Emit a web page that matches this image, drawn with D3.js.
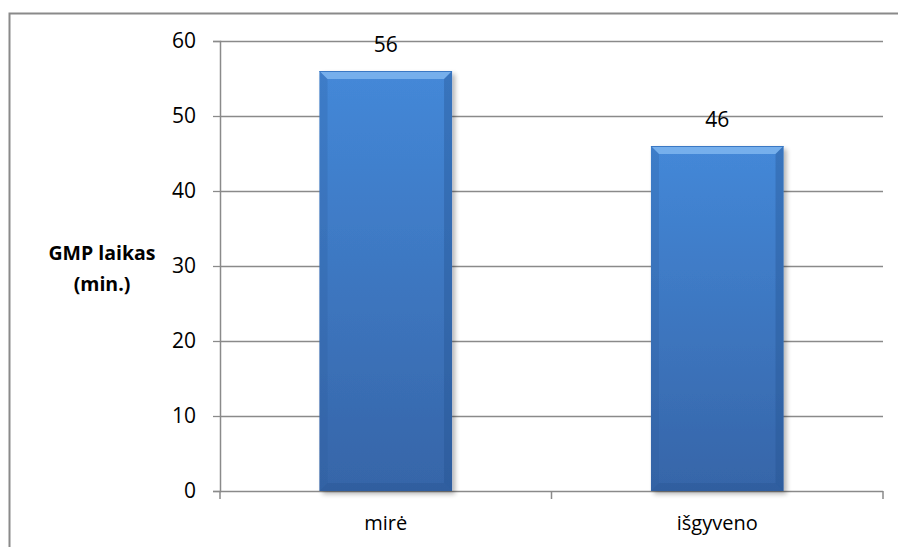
<!DOCTYPE html>
<html>
<head>
<meta charset="utf-8">
<script src="https://cdn.jsdelivr.net/npm/d3@7"></script>
<style>
  html, body { margin: 0; padding: 0; background: #fff; }
  svg { display: block; }
  text { font-family: "Open Sans", "Liberation Sans", sans-serif; fill: #000; }
</style>
</head>
<body>
<svg id="chart" width="898" height="547"></svg>
<script>
// Chart data
const categories = ["mirė", "išgyveno"];
const values = [56, 46];
const yTicks = [0, 10, 20, 30, 40, 50, 60];
const yTitleLines = ["GMP laikas", "(min.)"];

const W = 898, H = 547;
const plot = { left: 220, right: 883, top: 41, bottom: 491 };

const svg = d3.select("#chart");

// Outer chart frame (runs past the right and bottom edges)
svg.append("rect")
  .attr("x", 9.5).attr("y", 13.5)
  .attr("width", 1000).attr("height", 1000)
  .attr("fill", "none")
  .attr("stroke", "#8a8a8a")
  .attr("stroke-width", 2);

const x = d3.scaleBand()
  .domain(categories)
  .range([plot.left, plot.right])
  .paddingInner(0.6)
  .paddingOuter(0.3);

const y = d3.scaleLinear()
  .domain([0, 60])
  .range([plot.bottom, plot.top]);

const defs = svg.append("defs");

// Bar body gradient
const g = defs.append("linearGradient").attr("id", "barFill")
  .attr("x1", 0).attr("y1", 0).attr("x2", 0).attr("y2", 1);
g.append("stop").attr("offset", "0%").attr("stop-color", "#4488d8");
g.append("stop").attr("offset", "100%").attr("stop-color", "#3665a8");

// Soft drop shadow
const f = defs.append("filter").attr("id", "shadow")
  .attr("x", "-10%").attr("y", "-10%").attr("width", "130%").attr("height", "130%");
f.append("feGaussianBlur").attr("in", "SourceAlpha").attr("stdDeviation", 2.5).attr("result", "b");
f.append("feOffset").attr("in", "b").attr("dx", 3).attr("dy", 3).attr("result", "o");
f.append("feComponentTransfer").attr("in", "o").attr("result", "s")
  .append("feFuncA").attr("type", "linear").attr("slope", 0.3);
const m = f.append("feMerge");
m.append("feMergeNode").attr("in", "s");
m.append("feMergeNode").attr("in", "SourceGraphic");

// Horizontal gridlines
svg.append("g")
  .selectAll("line")
  .data(yTicks.filter(d => d > 0))
  .join("line")
  .attr("x1", plot.left).attr("x2", plot.right)
  .attr("y1", d => Math.round(y(d)) + 0.5).attr("y2", d => Math.round(y(d)) + 0.5)
  .attr("stroke", "#8a8a8a").attr("stroke-width", 1.3);

// Y axis
const yAxis = svg.append("g")
  .attr("transform", `translate(${plot.left},0)`)
  .call(d3.axisLeft(y).tickValues(yTicks).tickSize(7).tickPadding(17));
yAxis.select(".domain").attr("stroke", "#8a8a8a").attr("stroke-width", 1.5);
yAxis.selectAll(".tick line").attr("stroke", "#8a8a8a").attr("stroke-width", 1.3);
yAxis.selectAll(".tick text")
  .style("font-family", '"Open Sans", sans-serif')
  .style("font-size", "21px").attr("fill", "#000");

// X axis with boundary ticks between categories
const xAxis = svg.append("g")
  .attr("transform", `translate(0,${plot.bottom})`);
xAxis.append("line")
  .attr("x1", plot.left).attr("x2", plot.right)
  .attr("y1", 0.5).attr("y2", 0.5)
  .attr("stroke", "#8a8a8a").attr("stroke-width", 1.5);
const bounds = d3.range(categories.length + 1).map(i => plot.left + i * (plot.right - plot.left) / categories.length);
xAxis.selectAll("line.b").data(bounds).join("line").attr("class", "b")
  .attr("x1", d => d).attr("x2", d => d)
  .attr("y1", 0).attr("y2", 8)
  .attr("stroke", "#8a8a8a").attr("stroke-width", 1.5);
xAxis.selectAll("text").data(categories).join("text")
  .attr("x", d => x(d) + x.bandwidth() / 2)
  .attr("y", 39)
  .attr("text-anchor", "middle")
  .style("font-size", "20px")
  .text(d => d);

// Bars with bevelled edges
const bevel = 8;
const bars = svg.append("g").selectAll("g.bar")
  .data(categories.map((c, i) => ({ c, v: values[i] })))
  .join("g").attr("class", "bar");

bars.append("rect")
  .attr("x", d => x(d.c)).attr("y", d => y(d.v))
  .attr("width", x.bandwidth()).attr("height", d => y(0) - y(d.v))
  .attr("fill", "url(#barFill)")
  .attr("filter", "url(#shadow)");

function facet(sel, pts, fill, op) {
  sel.append("polygon")
    .attr("points", d => pts(d).map(p => p.join(",")).join(" "))
    .attr("fill", fill).attr("opacity", op);
}
// top
facet(bars, d => {
  const x0 = x(d.c), x1 = x0 + x.bandwidth(), y0 = y(d.v);
  return [[x0, y0], [x1, y0], [x1 - bevel, y0 + bevel], [x0 + bevel, y0 + bevel]];
}, "#8cc0f5", 0.7);
// left
facet(bars, d => {
  const x0 = x(d.c), y0 = y(d.v), y1 = y(0);
  return [[x0, y0], [x0 + bevel, y0 + bevel], [x0 + bevel, y1 - bevel], [x0, y1]];
}, "#2a5a9a", 0.25);
// right
facet(bars, d => {
  const x1 = x(d.c) + x.bandwidth(), y0 = y(d.v), y1 = y(0);
  return [[x1, y0], [x1 - bevel, y0 + bevel], [x1 - bevel, y1 - bevel], [x1, y1]];
}, "#23508c", 0.35);
// bottom
facet(bars, d => {
  const x0 = x(d.c), x1 = x0 + x.bandwidth(), y1 = y(0);
  return [[x0, y1], [x0 + bevel, y1 - bevel], [x1 - bevel, y1 - bevel], [x1, y1]];
}, "#234f8a", 0.3);
// thin top edge highlight
bars.append("line")
  .attr("x1", d => x(d.c)).attr("x2", d => x(d.c) + x.bandwidth())
  .attr("y1", d => y(d.v) + 0.5).attr("y2", d => y(d.v) + 0.5)
  .attr("stroke", "#3a78c4").attr("stroke-width", 1);

// Value labels
svg.append("g").selectAll("text")
  .data(categories.map((c, i) => ({ c, v: values[i] })))
  .join("text")
  .attr("x", d => x(d.c) + x.bandwidth() / 2)
  .attr("y", d => y(d.v) - 19)
  .attr("text-anchor", "middle")
  .style("font-size", "21px")
  .text(d => d.v);

// Y axis title
svg.append("text")
  .attr("x", 102).attr("y", 260)
  .attr("text-anchor", "middle")
  .style("font-size", "19.5px").style("font-weight", "bold")
  .selectAll("tspan").data(yTitleLines).join("tspan")
  .attr("x", 102).attr("dy", (d, i) => i === 0 ? 0 : 31)
  .text(d => d);
</script>
</body>
</html>
